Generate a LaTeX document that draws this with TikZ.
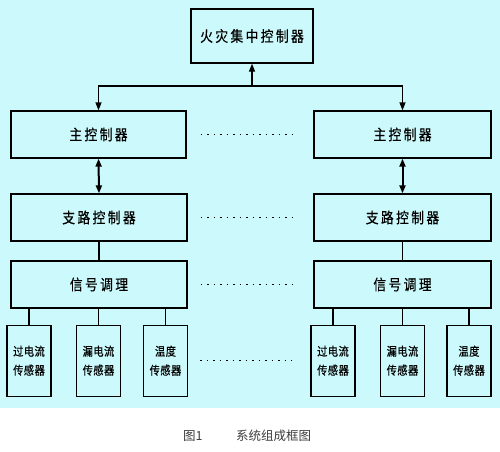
\documentclass[tikz,border=0pt]{standalone}
\usepackage{fontspec}
\setmainfont{Noto Sans CJK SC}
\newfontfamily\boxfont[LetterSpace=16, FakeStretch=0.85, FakeBold=0.5]{Noto Sans CJK SC}
\newfontfamily\sensfont[LetterSpace=4, FakeStretch=0.85, FakeBold=0.5]{Noto Sans CJK SC}
\usetikzlibrary{arrows.meta}
\definecolor{bgcyan}{RGB}{204,250,252}
\definecolor{capgray}{RGB}{60,60,60}
\tikzset{
  blk/.style={draw, line width=1.3pt, inner sep=0pt, font=\boxfont\fontsize{15}{17}\selectfont},
  sensor/.style={draw, line width=1.3pt, inner sep=0pt, minimum width=44pt, minimum height=71pt, align=center, font=\sensfont\fontsize{12}{19}\selectfont},
  link/.style={line width=1.3pt},
  arr/.style={line width=1.3pt, -{Triangle[length=8pt,width=6pt]}},
  darr/.style={line width=2pt, {Triangle[length=8pt,width=6pt]}-{Triangle[length=8pt,width=6pt]}},
  dotline/.style={line width=1.2pt, dash pattern=on 1.5pt off 5pt}
}
\begin{document}
\begin{tikzpicture}[x=1pt, y=-1pt]
\useasboundingbox (0,0) rectangle (500,451);
\fill[bgcyan] (0,0) rectangle (500,408);

% top level
\node[blk, minimum width=122pt, minimum height=54pt] (top) at (252, 36) {火灾集中控制器};
\coordinate (bus) at (252, 86);

% left branch
\node[blk, minimum width=175pt, minimum height=47pt] (mainL) at (98.5, 134.5) {主控制器};
\node[blk, minimum width=176pt, minimum height=47pt] (branchL) at (99, 217.5) {支路控制器};
\node[blk, minimum width=176pt, minimum height=47pt] (signalL) at (99, 284.5) {信号调理};
\node[sensor] (ocL) at (29, 360.7) {过电流\\传感器};
\node[sensor] (lkL) at (98.5, 360.7) {漏电流\\传感器};
\node[sensor] (tpL) at (165.5, 360.7) {温度\\传感器};

% right branch
\node[blk, minimum width=177pt, minimum height=47pt] (mainR) at (402.5, 134.5) {主控制器};
\node[blk, minimum width=177pt, minimum height=47pt] (branchR) at (402.5, 217.5) {支路控制器};
\node[blk, minimum width=177pt, minimum height=47pt] (signalR) at (402.5, 284.5) {信号调理};
\node[sensor] (ocR) at (333, 360.7) {过电流\\传感器};
\node[sensor] (lkR) at (402.5, 360.7) {漏电流\\传感器};
\node[sensor] (tpR) at (469, 360.7) {温度\\传感器};

% connectors
\draw[arr] (bus) -- (top.south);
\draw[arr] (bus) -| (mainL.north);
\draw[arr] (bus) -| (mainR.north);
\draw[darr] (mainL.south) -- (branchL.north);
\draw[darr] (mainR.south) -- (branchR.north);
\draw[link] (branchL.south) -- (signalL.north);
\draw[link] (branchR.south) -- (signalR.north);
\draw[link] (ocL.north) -- (ocL.north |- signalL.south);
\draw[link] (lkL.north) -- (lkL.north |- signalL.south);
\draw[link] (tpL.north) -- (tpL.north |- signalL.south);
\draw[link] (ocR.north) -- (ocR.north |- signalR.south);
\draw[link] (lkR.north) -- (lkR.north |- signalR.south);
\draw[link] (tpR.north) -- (tpR.north |- signalR.south);

% dotted gaps
\draw[dotline] ([xshift=14pt]mainL.east) -- ([xshift=-21pt]mainR.west);
\draw[dotline] ([xshift=13pt]branchL.east) -- ([xshift=-21pt]branchR.west);
\draw[dotline] ([xshift=13pt]signalL.east) -- ([xshift=-21pt]signalR.west);
\draw[dotline] ([xshift=12pt]tpL.east) -- ([xshift=-18pt]ocR.west);

% caption
\node[anchor=west, text=capgray, font=\fontsize{12.5}{14}\selectfont, inner sep=0pt] (fig) at (183, 436) {图1};
\node[anchor=west, text=capgray, font=\fontsize{12.5}{14}\selectfont, inner sep=0pt] (cap) at (236, 436) {系统组成框图};
\end{tikzpicture}
\end{document}
